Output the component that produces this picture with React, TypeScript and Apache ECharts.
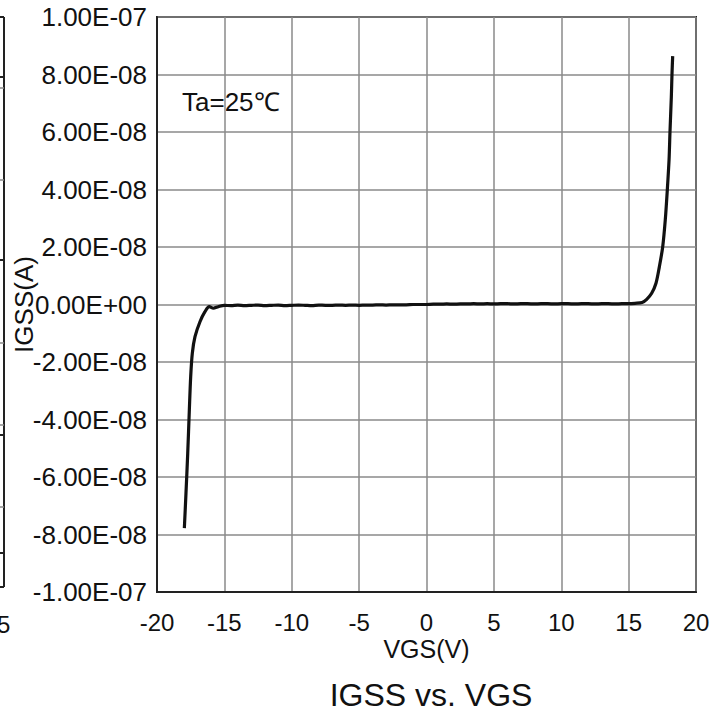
import React, { useEffect, useRef } from "react";
import * as echarts from "echarts";

const FONT = "'Liberation Sans', Arial, sans-serif";

// VGS (V)
const vgs = [
  -17.97, -17.85, -17.72, -17.6, -17.5, -17.38, -17.18, -16.81, -16.44, -16.12,
  -15.82, -15.45, -15.0, -14.5, -14.0, -13.5, -13.0, -12.5, -12.0, -11.5,
  -11.0, -10.5, -10.0, -9.5, -9.0, -8.5, -8.0, -7.5, -7.0, -6.5,
  -6.0, -5.5, -5.0, -4.5, -4.0, -3.5, -3.0, -2.5, -2.0, -1.5,
  -1.0, -0.5, 0.0, 0.5, 1.0, 1.5, 2.0, 2.5, 3.0, 3.5,
  4.0, 4.5, 5.0, 5.5, 6.0, 6.5, 7.0, 7.5, 8.0, 8.5,
  9.0, 9.5, 10.0, 10.5, 11.0, 11.5, 12.0, 12.5, 13.0, 13.5,
  14.0, 14.5, 15.0, 15.47, 16.0, 16.34, 16.71, 17.03, 17.28, 17.53,
  17.72, 17.87, 18.0, 18.07, 18.17, 18.22, 18.27,
];

// IGSS (A)
const igss = [
  -7.78e-8, -6.57e-8, -5.18e-8, -3.67e-8, -2.51e-8, -1.7e-8, -1.12e-8, -6.0e-9, -2.5e-9, -7.6e-10,
  -1.3e-9, -7.6e-10, -3.0e-10, -4.0e-10, -2.0e-10, -4.0e-10, -3.0e-10, -2.0e-10, -4.0e-10, -3.0e-10,
  -2.0e-10, -4.0e-10, -3.0e-10, -2.0e-10, -3.0e-10, -4.0e-10, -2.0e-10, -3.0e-10, -3.0e-10, -2.0e-10,
  -3.0e-10, -2.0e-10, -3.0e-10, -2.0e-10, -2.0e-10, -1.0e-10, -2.0e-10, -1.0e-10, -1.0e-10, -1.0e-10,
  0.0, 0.0, 0.0, 1.0e-10, 1.0e-10, 2.0e-10, 1.0e-10, 2.0e-10, 2.0e-10, 3.0e-10,
  2.0e-10, 3.0e-10, 2.0e-10, 3.0e-10, 3.0e-10, 2.0e-10, 3.0e-10, 3.0e-10, 2.0e-10, 3.0e-10,
  3.0e-10, 2.0e-10, 3.0e-10, 3.0e-10, 2.0e-10, 3.0e-10, 3.0e-10, 2.0e-10, 3.0e-10, 3.0e-10,
  2.0e-10, 3.0e-10, 3.0e-10, 4.2e-10, 7.0e-10, 1.8e-9, 3.9e-9, 7.4e-9, 1.31e-8, 2.01e-8,
  2.94e-8, 3.98e-8, 5.03e-8, 6.01e-8, 7.23e-8, 8.04e-8, 8.64e-8,
];

const xTicks = [-20, -15, -10, -5, 0, 5, 10, 15, 20];
const yMin = -1e-7;
const yMax = 1e-7;
const yStep = 2e-8;

const annotation = "Ta=25℃";
const chartTitle = "IGSS vs. VGS";
const xName = "VGS(V)";
const yName = "IGSS(A)";

function sci(v: number): string {
  if (Math.abs(v) < 1e-15) v = 0;
  const [m, e] = v.toExponential(2).split("e");
  const n = parseInt(e, 10);
  const sign = n < 0 ? "-" : "+";
  const a = Math.abs(n);
  return `${m}E${sign}${a < 10 ? "0" + a : a}`;
}

export default function App() {
  const ref = useRef<HTMLDivElement>(null);
  useEffect(() => {
    document.body.style.margin = "0";
    if (!ref.current) return;
    const chart = echarts.init(ref.current, null, { renderer: "svg" });
    const data = vgs.map((x, i) => [x, igss[i]]);
    const gray = "#8a8a8a";
    chart.setOption({
      animation: false,
      backgroundColor: "#ffffff",
      title: {
        text: chartTitle,
        left: 426,
        top: 674,
        textAlign: "center",
        textStyle: { fontFamily: FONT, fontSize: 32, fontWeight: "normal", color: "#111" },
      },
      grid: {
        left: 157,
        top: 17,
        right: 31,
        bottom: 121,
        containLabel: false,
        outerBoundsMode: "none",
        show: true,
        borderColor: "#222",
        borderWidth: 2,
        backgroundColor: "transparent",
      },
      xAxis: {
        type: "value",
        min: xTicks[0],
        max: xTicks[xTicks.length - 1],
        interval: 5,
        name: xName,
        nameLocation: "middle",
        nameGap: 44,
        nameMoveOverlap: false,
        nameTextStyle: { fontFamily: FONT, fontSize: 25, color: "#111" },
        axisLine: { show: true, onZero: false, lineStyle: { color: "#222", width: 2 } },
        axisTick: { show: false },
        axisLabel: { fontFamily: FONT, fontSize: 24, color: "#111", margin: 18 },
        splitLine: { show: true, lineStyle: { color: gray, width: 1.5 } },
      },
      yAxis: {
        type: "value",
        min: yMin,
        max: yMax,
        interval: yStep,
        name: yName,
        nameLocation: "middle",
        nameGap: 120,
        nameMoveOverlap: false,
        nameTextStyle: { fontFamily: FONT, fontSize: 26, color: "#111" },
        axisLine: { show: true, onZero: false, lineStyle: { color: "#222", width: 2 } },
        axisTick: { show: false },
        axisLabel: { fontFamily: FONT, fontSize: 26, color: "#111", margin: 10, formatter: (v: number) => sci(v) },
        splitLine: { show: true, lineStyle: { color: gray, width: 1.5 } },
      },
      series: [
        {
          type: "line",
          data,
          showSymbol: false,
          smooth: 0.3,
          lineStyle: { color: "#111", width: 3.2 },
          z: 5,
        },
      ],
      graphic: [
        {
          type: "text",
          x: 182,
          y: 102,
          style: { text: annotation, font: `26px ${FONT}`, fill: "#111", verticalAlign: "middle" },
        },
        // fragment of the neighbouring chart cropped at the left edge
        { type: "line", shape: { x1: 4, y1: 17, x2: 4, y2: 587 }, style: { stroke: "#222", lineWidth: 2 } },
        { type: "line", shape: { x1: 0, y1: 17, x2: 4, y2: 17 }, style: { stroke: "#222", lineWidth: 2 } },
        { type: "line", shape: { x1: 0, y1: 587, x2: 4, y2: 587 }, style: { stroke: "#222", lineWidth: 2 } },
        ...[77, 260, 435, 553].map((y) => ({
          type: "line",
          shape: { x1: 0, y1: y, x2: 5, y2: y },
          style: { stroke: "#222", lineWidth: 2 },
        })),
        ...[88, 180, 343, 425, 507].map((y) => ({
          type: "line",
          shape: { x1: 0, y1: y, x2: 4, y2: y },
          style: { stroke: gray, lineWidth: 1.5 },
        })),
        {
          type: "text",
          x: -3,
          y: 624,
          style: { text: "5", font: `24px ${FONT}`, fill: "#111", verticalAlign: "middle" },
        },
      ],
    });
    return () => chart.dispose();
  }, []);
  return <div ref={ref} style={{ position: "fixed", left: 0, top: 0, width: 727, height: 713 }} />;
}
